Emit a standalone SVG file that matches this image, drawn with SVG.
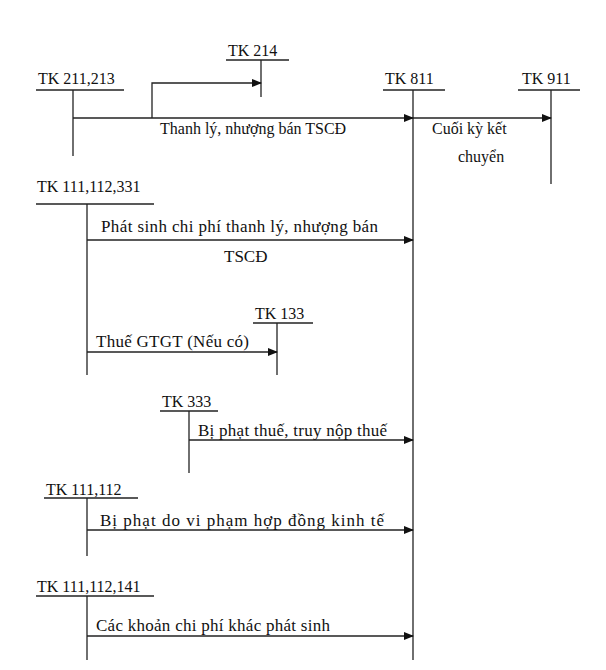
<svg xmlns="http://www.w3.org/2000/svg" width="606" height="670" viewBox="0 0 606 670">
<style>
text{font-family:"Liberation Serif","DejaVu Serif",serif;font-size:16px;fill:#111}
.b{font-size:17px}
line,polyline{stroke:#222;stroke-width:1.3;fill:none}
</style>
<defs><marker id="a" markerWidth="10" markerHeight="8" refX="9" refY="4" orient="auto" markerUnits="userSpaceOnUse"><path d="M0,0L10,4L0,8Z" fill="#111"/></marker></defs>
<rect width="606" height="670" fill="#fff"/>
<g id="tk214"><text x="228" y="56">TK 214</text><line x1="226" y1="60" x2="289" y2="60"/><line x1="261" y1="60" x2="261" y2="97"/></g>
<g id="tk211"><text x="38" y="84">TK 211,213</text><line x1="36" y1="90" x2="124" y2="90"/><line x1="73" y1="90" x2="73" y2="156"/></g>
<g id="tk811"><text x="385" y="84">TK 811</text><line x1="383" y1="90" x2="445" y2="90"/><line x1="413" y1="90" x2="413" y2="660"/></g>
<g id="tk911"><text x="522" y="84">TK 911</text><line x1="518" y1="90" x2="580" y2="90"/><line x1="551" y1="90" x2="551" y2="184"/></g>
<g id="tk111a"><text x="37" y="192">TK 111,112,331</text><line x1="36" y1="204" x2="154" y2="204"/><line x1="87" y1="204" x2="87" y2="375"/></g>
<g id="tk133"><text x="255" y="319">TK 133</text><line x1="253" y1="323" x2="313" y2="323"/><line x1="277" y1="323" x2="277" y2="375"/></g>
<g id="tk333"><text x="162" y="407">TK 333</text><line x1="160" y1="411" x2="218" y2="411"/><line x1="189" y1="411" x2="189" y2="473"/></g>
<g id="tk111b"><text x="46" y="495">TK 111,112</text><line x1="44" y1="498" x2="138" y2="498"/><line x1="87" y1="498" x2="87" y2="556"/></g>
<g id="tk111c"><text x="37" y="592">TK 111,112,141</text><line x1="36" y1="596" x2="154" y2="596"/><line x1="87" y1="596" x2="87" y2="660"/></g>
<g id="connectors">
<line x1="73" y1="118" x2="413" y2="118" marker-end="url(#a)"/>
<polyline points="152,118 152,83 261,83" marker-end="url(#a)"/>
<line x1="413" y1="118" x2="551" y2="118" marker-end="url(#a)"/>
<line x1="87" y1="240" x2="413" y2="240" marker-end="url(#a)"/>
<line x1="87" y1="352" x2="277" y2="352" marker-end="url(#a)"/>
<line x1="189" y1="440" x2="413" y2="440" marker-end="url(#a)"/>
<line x1="87" y1="530" x2="413" y2="530" marker-end="url(#a)"/>
<line x1="87" y1="636" x2="413" y2="636" marker-end="url(#a)"/>
</g>
<g id="labels">
<text x="160" y="134">Thanh lý, nhượng bán TSCĐ</text>
<text x="432" y="134">Cuối kỳ kết</text>
<text x="458" y="162">chuyển</text>
<text class="b" x="101" y="232" textLength="277">Phát sinh chi phí thanh lý, nhượng bán</text>
<text class="b" x="224" y="262">TSCĐ</text>
<text class="b" x="96" y="347" textLength="153">Thuế GTGT (Nếu có)</text>
<text class="b" x="198" y="436" textLength="189">Bị phạt thuế, truy nộp thuế</text>
<text class="b" x="100" y="526" textLength="284">Bị phạt do vi phạm hợp đồng kinh tế</text>
<text class="b" x="96" y="631" textLength="234">Các khoản chi phí khác phát sinh</text>
</g>
</svg>
